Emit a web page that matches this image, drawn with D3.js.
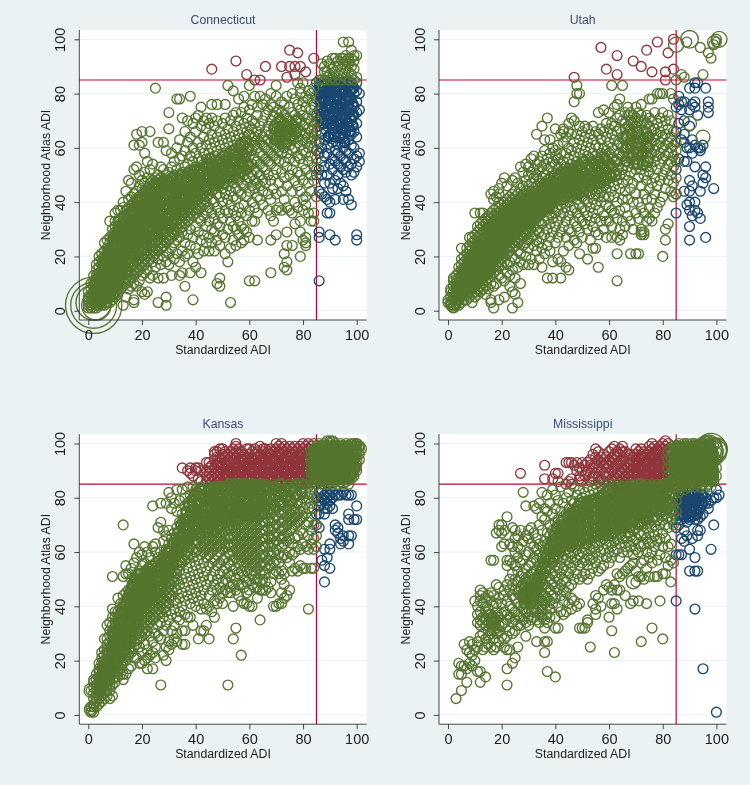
<!DOCTYPE html>
<html lang="en">
<head>
<meta charset="UTF-8">
<title>Standardized ADI vs Neighborhood Atlas ADI</title>
<style>
    html, body { margin: 0; background: #eaf2f3; }
    svg { display: block; font-family: "Liberation Sans", Arial, sans-serif; filter: blur(0.4px); }
    .ticklab { font-size: 14.5px; fill: #1c1c1c; }
    .axtitle { font-size: 12.3px; fill: #222; }
    .ptitle { font-size: 12.3px; fill: #3d4b70; }
</style>
</head>
<body>
<svg id="chart" width="750" height="785"></svg>
<script src="https://d3js.org/d3.v7.min.js"></script>
<script>
// values. columns are [standardized ADI, [atlas ADI, ...]]
const tickValues = [0, 20, 40, 60, 80, 100];
const cutoff = 85;

const ctRed = [[46,[89]],[55,[92]],[59,[87]],[62,[85]],[64,[85]],[66,[90]],[72,[90]],[74,[86]],[75,[96,90]],[77,[90,87]],[78,[95]],[79,[90]],[81,[88]],[84,[93]]];
const ctBlue = [[85,[50,59,66,72,78,84]],[86,[11,29,27,44,52,58,62,68,74,80,83]],[87,[43,50,55,60,65,70,75,79,82,84]],[88,[42,47,53,57,63,67,72,77,81,83]],[89,[36,41,50,58,61,69,74,76,79,84]],[90,[28,36,40,47,54,60,65,71,73,78,82]],[91,[45,52,56,62,67,70,75,80,83]],[92,[26,41,48,55,59,64,68,73,77,81,84]],[93,[45,50,54,58,61,66,72,76,79,83]],[94,[47,53,57,62,65,70,74,78,82]],[95,[41,46,52,56,60,64,69,72,75,80,84]],[96,[44,51,55,59,66,71,77,81]],[97,[41,53,58,63,68,73,76,79,83]],[98,[39,50,54,61,65,70,74,78,84]],[99,[51,56,60,66,72,75,80,82]],[100,[26,28,53,57,64,69,73,77,81,84]],[101,[55,58,74,80]]];
const ctBlueCore = [[86.5,[71,77,82]],[87.5,[69,73,78,83]],[88.5,[70,75,80]],[89.5,[64,72,78,82]],[90.5,[69,75,80,84]],[91.5,[65,72,78,82]],[92.5,[70,75,79,83]],[93.5,[64,69,74,81]],[94.5,[67,72,76,80,84]],[95.5,[62,67,74,78,82]],[96.5,[69,75,79,84]],[97.5,[66,71,78,81]],[98.5,[68,72,76,82]]];
const ctGreen = [
[0,[1,2,3,4,5,7]],[1,[1,2,3,5,6,8,10]],[2,[1,3,4,6,7,9,11,13]],[3,[1,2,4,6,8,9,11,13,15,17]],[4,[2,3,5,7,9,10,12,14,16,18,20]],[5,[2,4,6,8,9,11,13,15,17,19,21]],
[6,[2,4,5,7,9,11,13,14,16,18,20,22,25]],[7,[3,5,7,8,10,12,14,16,18,20,21,23,26]],[8,[3,5,6,8,10,12,14,15,17,19,21,23,25,27,33]],[9,[4,6,8,10,11,13,15,17,19,20,22,24,26,28,30]],
[10,[5,7,9,11,13,14,16,18,20,22,24,25,27,29,31,33,36]],[11,[6,8,10,12,14,16,18,19,21,23,25,27,29,31,33,37]],[12,[8,10,12,13,15,17,19,21,23,25,26,28,30,32,34,37]],
[13,[2,9,11,13,15,17,18,20,22,24,26,28,30,31,33,35,38,40]],[14,[5,10,12,14,16,18,20,22,23,25,27,29,31,33,35,37,44]],[15,[8,11,13,15,17,19,21,23,25,26,28,30,32,34,36,38,41,48]],
[16,[9,12,14,16,18,20,22,24,26,27,29,31,33,35,37,39,42,47]],[17,[3,4,10,13,15,17,19,21,23,25,27,29,30,32,34,36,38,40,43,52,61]],[18,[9,14,16,18,20,22,24,26,28,30,32,33,35,37,39,41,44,53,65]],
[19,[11,15,17,19,21,23,25,27,29,31,33,35,36,38,40,42,46,50,61]],[20,[7,13,16,18,20,22,24,26,28,30,32,34,36,38,39,41,43,45,48,62,66]],[21,[6,14,17,19,21,23,25,27,29,31,33,35,37,39,41,42,44,47,51,58]],
[22,[7,15,18,20,22,24,26,28,30,32,34,36,38,40,42,44,45,49,55]],[23,[12,19,21,23,25,27,29,31,33,35,37,39,41,43,45,47,52,66]],[24,[13,18,20,22,24,26,28,30,32,34,36,38,40,42,44,46,48,54]],
[25,[16,21,23,25,27,29,31,33,35,37,39,41,43,45,47,49,82]],[26,[3,12,19,22,24,26,28,30,32,34,36,38,40,42,44,46,48,50,62]],[27,[17,23,25,27,29,31,33,35,37,39,41,43,45,47,49,53]],
[28,[12,20,24,26,28,30,32,34,36,38,40,42,44,46,48,52,62]],[29,[2,5,18,22,25,27,29,31,33,35,37,39,41,43,45,47,50,59]],[30,[17,21,26,28,30,32,34,36,38,40,42,44,46,48,51,67,73]],
[31,[13,23,27,29,31,33,35,37,39,41,43,45,47,49,53,58]],[32,[19,25,28,30,32,34,36,38,40,42,44,46,48,50,55]],[33,[21,26,29,31,33,35,37,39,41,43,45,47,49,52,60,78]],
[34,[13,18,27,30,32,34,36,38,40,42,44,46,48,50,56,63,78]],[35,[14,22,29,31,33,35,37,39,41,43,45,47,49,51,57,71]],[36,[9,20,25,32,34,36,38,40,42,44,46,48,50,53,59,66]],
[37,[21,28,33,35,37,39,41,43,45,47,49,51,54,62,70]],[38,[14,24,30,34,36,38,40,42,44,46,48,50,52,57,64,79]],[39,[4,18,27,35,37,39,41,43,45,47,49,51,55,60,69]],
[40,[16,23,31,36,38,40,42,44,46,48,50,53,58,66,71]],[41,[21,29,34,37,39,41,43,45,47,49,51,56,62,72]],[42,[14,26,33,38,40,42,44,46,48,50,52,55,60,68,75]],
[43,[22,28,35,39,41,43,45,47,49,51,54,58,64,70]],[44,[25,31,37,40,42,44,46,48,50,52,56,61,67,71]],[45,[22,27,33,38,43,45,47,49,51,53,58,63,69]],[46,[25,30,36,41,44,46,48,50,52,55,60,65,71,76]],
[47,[22,29,34,40,45,47,49,51,53,57,62,68]],[48,[10,26,32,38,43,46,48,50,52,54,59,64,70,76]],[49,[9,12,24,31,36,42,47,49,51,53,56,61,66]],[50,[28,34,40,45,48,50,52,55,58,63,69]],
[51,[21,27,37,43,47,49,51,53,56,60,65,71,76]],[52,[18,30,36,41,46,50,52,54,57,62,67,83]],[53,[3,23,33,39,44,48,51,53,55,59,64,70]],[54,[26,31,37,42,47,50,52,56,61,66,72,81]],
[55,[24,30,35,41,45,49,53,55,58,63,68,73]],[56,[28,33,38,44,48,52,54,57,60,65,70,78]],[57,[25,31,36,43,47,51,55,59,62,67,73]],[58,[26,30,39,46,50,53,56,61,64,69,75,79]],
[59,[29,35,42,48,52,55,58,63,66,71]],[60,[11,27,37,44,49,53,57,60,65,68,74,83]],[61,[33,40,46,50,54,59,62,67,70,76]],[62,[11,33,38,45,48,52,56,61,64,69,79]],[63,[26,36,42,47,51,55,60,63,66,72,75]],
[64,[41,46,50,54,58,62,65,68,79]],[65,[39,44,48,53,57,61,64,70,76]],[66,[47,52,56,60,66,72,78]],[67,[37,43,50,55,59,63,68,74]],[68,[14,26,35,41,48,54,58,62,65,70,76,80]],
[69,[33,45,50,57,61,64,67,72,75]],[70,[28,37,43,52,56,60,63,66,69,73,79,83]],[71,[38,47,55,59,62,65,68,71,74]],[72,[37,44,51,58,61,64,67,70,73,77]],[73,[16,21,41,49,55,60,63,66,69,72,76]],
[74,[15,18,24,29,38,46,53,58,62,65,68,71,79]],[75,[37,50,56,61,64,67,70,75]],[76,[24,36,44,52,59,63,66,69,73,80]],[77,[32,40,48,55,60,65,68,72,78]],[78,[38,46,51,57,62,64,67,71,76,84]],
[79,[20,29,33,44,50,56,61,66,70,74,80,82]],[80,[26,37,41,48,54,59,63,68,72,77,84]],[81,[25,27,24,39,42,52,58,62,65,69,75,79]],[82,[36,47,55,60,64,67,71,78,81]],[83,[33,44,50,57,62,66,70,74,80]],
[84,[33,36,48,53,60,64,68,72,76,82]],[85,[42,52,56,62,66,70]],
[86,[85]],[87,[85,91]],[88,[85,88,90]],[89,[92,88,86]],[90,[91,87,85]],[91,[93,86,89]],[92,[93,88,85]],[93,[90,87,92]],[94,[89,85,93]],[95,[99,91,87,93]],[96,[92,86,89,94]],[97,[99,93,88,85,91]],[98,[96,90,87,93]],[99,[94,89,85,92]],[100,[94,86]]];
const ctGreenCore = [
[2.5,[3,6,10]],[3.5,[5,8,12]],[4.5,[3,7,11,13]],[5.5,[4,6,10,14,18]],[6.5,[3,8,12,15,19]],[7.5,[5,9,13,17,19,22]],[8.5,[7,11,14,18,22]],[9.5,[6,12,16,21,23,27]],
[10.5,[9,13,15,19,24,28]],[11.5,[11,17,20,24,26,30]],[12.5,[14,18,22,27,31]],[13.5,[16,21,25,29,32]],[14.5,[14,19,23,26,30,34]],[15.5,[18,22,27,31,35]],[16.5,[20,24,28,33,36]],
[17.5,[21,26,29,34,38]],[18.5,[19,23,28,31,36,40]],[19.5,[24,27,32,37,41]],[20.5,[23,29,33,35,39]],[21.5,[25,28,34,38,42]],[22.5,[27,31,35,39,43]],[23.5,[24,30,36,40,44]],
[24.5,[28,33,37,41,46]],[25.5,[29,32,38,42,47]],[26.5,[31,35,39,43]],[27.5,[30,36,40,44,47]],[28.5,[33,38,41,45]],[29.5,[31,34,39,43,48]],[30.5,[35,40,44,46]],[31.5,[33,37,41,45,49]],
[32.5,[36,42,46]],[33.5,[38,40,44,48]],[34.5,[37,41,47,50]],[35.5,[39,43,46]],[36.5,[40,45,49]],[37.5,[38,44,47,51]],[38.5,[41,46,50]],[39.5,[42,44,48,52]],[40.5,[41,45,49]],[41.5,[44,47,52]],
[42.5,[43,47,51]],[43.5,[46,49,53]],[44.5,[45,50,54]],[45.5,[47,52,56]],[46.5,[46,50,54]],[47.5,[48,53]],[48.5,[47,51,55]],[49.5,[49,54]],[50.5,[47,52,57]],[51.5,[50,55]],
[52.5,[49,53,58]],[53.5,[51,56]],[54.5,[50,54,59]],[55.5,[52,57]],[56.5,[51,56,61]],[57.5,[54,58]],[58.5,[52,57,62]],[59.5,[54,60]],[69.5,[63,68]],[71.5,[64,67,70]],[73.5,[62,65,68]],[75.5,[64,67]],[77.5,[66,70]]];
const ctHeavy = [[2,2,33],[2,2,22],[2,3,13],[3,2,9]];

const utRed = [[47,[86]],[57,[97]],[59,[89]],[63,[87,94]],[69,[92]],[72,[90]],[74,[96]],[76,[88]],[78,[99]],[81,[85,88]],[82,[95]],[84,[89,100]]];
const utBlue = [[85,[36,43,52,66,75]],[86,[56,76,79,69]],[87,[63,74,77]],[88,[44,55,62,65,70,77]],[89,[55,60,39]],[90,[26,31,37,40,44,48,60,68,74,82]],[91,[35,46,63,58,76]],[92,[37,40,53,61,75,77,82,84]],[93,[36,60,72,84]],[94,[34,44,59,60]],[95,[47,50,61]],[96,[27,49,53,82]],[97,[73,75,77]],[99,[45]]];
const utGreen = [
[0,[3,4]],[1,[2,3,5,7,8]],[2,[1,2,4,5,7,9,11,12]],[3,[2,3,5,6,8,10,11,13]],[4,[2,4,5,7,9,10,12,14,16]],[5,[3,5,6,8,10,11,13,15,17,19,23]],[6,[4,6,7,9,11,12,14,16,18,20]],
[7,[4,6,8,10,12,13,15,17,19,21,23]],[8,[5,7,9,11,13,14,16,18,20,22,24,27]],[9,[3,6,8,10,12,14,15,17,19,21,23,25,27]],[10,[5,7,9,11,13,15,16,18,20,22,24,26,28,36]],[11,[6,8,10,12,14,16,18,19,21,23,25,27,29,31]],
[12,[7,9,11,13,15,17,18,20,22,24,26,28,30,32,36]],[13,[8,10,12,14,16,18,20,21,23,25,27,29,31,33,36]],[14,[6,9,11,13,15,17,19,21,23,24,26,28,30,32,34]],[15,[8,12,14,16,18,20,22,24,26,27,29,31,33,35]],
[16,[4,3,10,13,15,17,19,21,23,25,27,29,30,32,34,36,43]],[17,[1,9,14,16,18,20,22,24,26,28,30,32,33,35,37,41,44]],[18,[10,15,17,19,21,23,25,27,29,31,33,35,36,38,42]],[19,[4,13,16,18,20,22,24,26,28,30,32,34,36,38,40,43,45]],
[20,[12,17,19,21,23,25,27,29,31,33,35,37,39,47]],[21,[5,11,18,20,22,24,26,28,30,32,34,36,38,40,49]],[22,[14,17,21,23,25,27,29,31,33,35,37,39,41,46]],[23,[9,13,18,22,24,26,28,30,32,34,36,38,40,42]],
[24,[1,7,15,20,23,25,27,29,31,33,35,37,39,41,43,48]],[25,[6,12,19,24,26,28,30,32,34,36,38,40,42,44,49]],[26,[3,16,22,25,27,29,31,33,35,37,39,41,43,47]],[27,[10,18,21,26,28,30,32,34,36,38,40,42,45,53]],
[28,[17,24,27,29,31,33,35,37,39,41,43,46,51]],[29,[20,25,28,30,32,34,36,38,40,42,44,48,54]],[30,[17,23,26,29,31,33,35,37,39,41,43,46,50,53]],[31,[19,27,30,32,34,36,38,40,42,44,47,51,56]],
[32,[17,24,28,31,33,35,37,39,41,43,45,49,52,57]],[33,[22,26,30,34,36,38,40,42,44,46,50,54,65]],[34,[19,25,29,33,35,37,39,41,43,45,48,52,55]],[35,[16,23,27,32,36,38,40,42,44,46,49,53,57,68]],
[36,[21,28,33,37,39,41,43,45,47,50,54,59,63]],[37,[12,24,30,34,38,40,42,44,46,48,52,56,71]],[38,[22,27,32,36,39,41,43,45,47,49,53,58,63]],[39,[12,18,29,34,38,42,44,46,48,51,55,60]],[40,[25,31,36,40,43,45,47,50,54,57,59,67]],
[41,[19,27,33,37,41,44,46,49,52,56,61]],[42,[12,18,29,35,39,42,45,47,51,54,58,65]],[43,[22,31,36,40,43,46,48,52,55,62,66,67]],[44,[16,27,33,38,42,45,47,50,53,58,64]],[45,[15,24,30,35,40,44,46,49,52,56,60,66,69]],
[46,[29,37,42,45,48,51,54,59,65,71]],[47,[26,33,38,43,47,50,53,57,62,70,77]],[48,[25,31,36,41,45,48,52,55,60,65,80,83]],[49,[21,29,34,39,43,47,50,54,58,63,68,80]],[50,[27,33,38,42,46,49,53,56,61,66]],
[51,[32,37,41,45,48,51,55,59,64,68]],[52,[19,30,35,40,44,47,50,54,57,62,67]],[53,[26,33,38,43,46,49,52,56,60,65]],[54,[23,31,36,41,45,48,51,55,58,63,68]],[55,[23,29,34,39,43,47,50,53,57,61,66]],
[56,[16,28,37,42,45,49,52,56,60,65,73]],[57,[33,40,44,47,51,54,58,63,67]],[58,[30,35,42,46,49,53,57,60,66,74]],[59,[27,33,39,45,48,52,55,59,64,69]],[60,[33,38,42,47,50,54,58,62,67,73]],
[61,[27,31,37,44,49,53,56,60,65,69,83]],[62,[36,42,46,51,55,59,63,68,75]],[63,[11,21,27,34,40,48,52,56,61,66,71,76]],[64,[26,30,37,45,50,54,58,62,67,72,78]],[65,[28,33,41,47,52,57,60,64,70,83]],
[66,[31,38,44,50,55,59,63,67,69,73]],[67,[35,41,48,53,57,61,65,68,72,75]],[68,[21,33,45,51,56,60,63,67,70,73]],[69,[30,40,47,54,58,62,66,69,72]],[70,[21,36,43,52,56,60,64,68,71,75]],
[71,[21,34,40,49,54,58,62,66,70,73]],[72,[28,29,30,38,46,52,57,60,64,68,72,76]],[73,[28,29,36,43,50,55,59,63,66,70]],[74,[33,41,48,53,58,62,66,69,72]],[75,[34,38,45,51,56,60,64,68,71,78]],
[76,[33,41,47,53,58,62,66,70,78]],[77,[36,43,49,55,59,63,67,73]],[78,[38,46,52,57,61,65,69,80]],[79,[40,48,54,58,62,66,71,80]],[80,[20,42,50,56,60,64,68,73,80]],[81,[26,30,45,52,57,61,65,70]],
[82,[32,48,54,58,62,67,72]],[83,[44,50,55,60,64,70,80]],[84,[42,47,53,57,61,66,78]],[85,[43,49,55,59,62,85]],[87,[87]],[88,[86]],[89,[99]],[94,[97]],[95,[87]],[97,[95]],[98,[93]],[99,[98]],[100,[99,100]]];
const utGreenCore = [
[3.5,[4,7,9]],[4.5,[6,8,11]],[5.5,[7,9,12,14]],[6.5,[8,10,13,15]],[7.5,[9,11,14,16,18]],[8.5,[8,10,12,15,17,19]],[9.5,[9,11,13,16,18,20]],
[10.5,[10,12,14,17,19,21,23]],[11.5,[11,13,15,17,20,22,24]],[12.5,[12,14,16,19,21,23,25]],[13.5,[13,15,17,19,22,24,26]],[14.5,[14,16,18,20,22,25,27,29]],[15.5,[15,17,19,21,23,25,28,30]],
[16.5,[18,20,22,24,26,28,31]],[17.5,[19,21,23,25,27,29,31]],[18.5,[20,22,24,26,28,30,32]],[19.5,[21,23,25,27,29,31,33]],[20.5,[22,24,26,28,30,32,34]],[21.5,[25,27,29,31,33,35]],
[22.5,[26,28,30,32,34,36]],[23.5,[27,29,31,33,35,37]],[24.5,[28,30,32,34,36,38]],[25.5,[29,31,33,35,37,39]],[26.5,[30,32,34,36,38,40]],[27.5,[31,33,35,37,39]],
[28.5,[32,34,36,38,40]],[29.5,[33,35,37,39,41]],[30.5,[32,34,36,38,40,42]],[31.5,[33,35,37,39,41]],[32.5,[34,36,38,40,42]],[33.5,[35,37,39,41,43]],[34.5,[36,38,40,42,44]],
[35.5,[37,39,41,43,45]],[36.5,[38,40,42,44,46]],[37.5,[38,41,43,45,47]],[38.5,[40,42,44,46]],[39.5,[41,43,45,47]],[40.5,[42,44,46,49]],[41.5,[43,45,47,50]],[42.5,[41,44,46,48]],
[43.5,[42,45,47,50]],[44.5,[43,46,48,51]],[45.5,[42,45,47,50]],[46.5,[44,46,49,52]],[47.5,[43,46,48,51]],[48.5,[47,50,53]],[49.5,[45,48,52]],[50.5,[44,47,51,55]],[52.5,[46,49,53]],[54.5,[47,50,54]],[56.5,[47,51,55]],[58.5,[48,52,56]],
[60.5,[50,54]],[62.5,[50,55]],[66.5,[55,60,64]],[68.5,[57,61,65]],[70.5,[54,58,62,66]],[72.5,[54,58,63]],[74.5,[55,60,64]]];
const utHeavy = [[85,98,2.4],[90,100,3.2],[101,100,2.6],[99,99,1.6],[95,64,2],[90,69,2],[2,3,2.2],[2,2,2]];

const ksRed = [
[35,[91]],[37,[90]],[38,[89,91]],[39,[88]],[40,[90,91]],[41,[91,87]],[42,[90,86]],[44,[88,90,86,93]],[45,[87,89,91,93]],[46,[86,88,90,92]],[47,[87,89,91,94,96,97]],[48,[86,88,90,92,93,95,97]],
[49,[87,89,91,93,95,98]],[50,[86,88,90,92,94,96,98]],[51,[87,89,91,93,95,97]],[52,[86,88,90,92,94,96]],[53,[87,89,91,93,95,97]],[54,[86,88,90,92,94,96,98]],[55,[87,89,91,93,95,97,99,100]],[56,[86,88,90,92,94,96,98]],
[57,[87,89,91,93,95,97]],[58,[86,88,90,92,94,96]],[59,[87,89,91,93,95,98]],[60,[86,88,90,92,94,96,98]],[61,[87,89,91,93,95,97]],[62,[86,88,90,92,94,96,98]],[63,[87,89,91,93,95,97]],[64,[86,88,90,92,94,96,99]],
[65,[87,89,91,93,95,97,98]],[66,[86,88,90,92,94,96,98]],[67,[87,89,91,93,95,97]],[68,[86,88,90,92,94,96,98]],[69,[87,89,91,93,95,97]],[70,[86,88,90,92,94,96,98,100]],[71,[87,89,91,93,95,97,99]],[72,[86,88,90,92,94,96,98,100]],
[73,[87,89,91,93,95,97,99]],[74,[86,88,90,92,94,96,98]],[75,[87,89,91,93,95,97,99]],[76,[86,88,90,92,94,96,98]],[77,[87,89,91,93,95,97,99]],[78,[86,88,90,92,94,96,98]],[79,[87,89,91,93,95,97,99]],[80,[86,88,90,92,94,96,98,100]],
[81,[87,89,91,93,95,97,99]],[82,[86,88,90,92,94,96,98,100]],[83,[87,89,91,93,95,97,99]],[84,[86,88,90,92,94,96,98,100]]];
const ksRedCore = [[51.5,[88,92]],[53.5,[90]],[55.5,[88,92]],[57.5,[90,94]],[59.5,[88,92]],[61.5,[90,94]],[63.5,[88,92]],[65.5,[90,94]],[67.5,[88,92,96]],[69.5,[90,94]],[71.5,[88,92,96]],[73.5,[90,94]],[75.5,[88,92,96]],[77.5,[90,94]],[79.5,[88,92,96]],[81.5,[90,94]],[83.5,[88,92,96]]];
const ksBlue = [[85,[70,74,80]],[86,[69,74,77,79,82]],[87,[57,78,80,83]],[88,[49,55,61,74,76,79,81]],[89,[58,76,78,80,82]],[90,[54,61,63,77,79,81,83]],[91,[76,80,82]],[92,[68,70,81,83]],[93,[67,69,81]],[94,[63,65,81]],[95,[64,66,82]],[96,[81]],[97,[63,66,72,74,81]],[98,[66,81]],[99,[72]],[100,[72,77]]];
const ksGreen = [
[1,[1,2,3,9]],[2,[1,3,4,6,8,10,12,13]],[3,[3,5,6,8,10,11,13,15]],[4,[4,6,8,9,11,13,14,16,17,19]],[5,[5,7,9,10,12,14,15,17,19,21,23]],[6,[6,8,9,11,13,15,16,18,20,22,24,28]],[7,[7,9,11,12,14,16,18,20,22,24,26,28,33]],
[8,[6,9,11,13,15,17,19,21,23,25,27,29,31,34]],[9,[7,11,13,15,17,19,21,23,25,27,29,31,33,36,39,51]],[10,[12,14,16,18,20,22,24,26,28,30,32,34,36,38]],[11,[14,16,18,20,22,24,26,28,30,32,34,36,38,43]],
[12,[15,17,19,21,23,25,27,29,31,33,35,37,39,41]],[13,[13,15,19,21,23,25,27,29,31,33,35,37,39,41,44,51,70]],[14,[15,20,22,24,26,28,30,32,34,36,38,40,42,45,52,55]],[15,[17,22,24,26,28,30,32,34,36,38,40,42,44,46,52]],
[16,[18,23,25,27,29,31,33,35,37,39,41,43,45,47,50,54]],[17,[21,25,27,29,31,33,35,37,39,41,43,45,47,49,56,63]],[18,[21,26,28,30,32,34,36,38,40,42,44,46,48,50,52,58]],[19,[19,25,28,30,32,34,36,38,40,42,44,46,48,50,53,60]],
[20,[19,23,29,31,33,35,37,39,41,43,45,47,49,51,55,59]],[21,[20,26,30,32,34,36,38,40,42,44,46,48,50,52,56,62]],[22,[17,21,24,31,33,35,37,39,41,43,45,47,49,51,53,60]],[23,[22,29,34,36,38,40,42,44,46,48,50,52,54,58]],
[24,[17,23,27,32,35,37,39,41,43,45,47,49,51,53,55,62,77]],[25,[21,25,30,36,38,40,42,44,46,48,50,52,54,56,60,63]],[26,[29,33,37,39,41,43,45,47,49,51,53,55,58,69]],[27,[11,28,34,38,40,42,44,46,48,50,52,54,57,60,71,78]],
[28,[22,31,36,39,41,43,45,47,49,51,53,55,59,64,68]],[29,[20,25,33,38,40,42,44,46,48,50,52,54,56,61,66,78]],[30,[24,27,35,41,43,45,47,49,51,53,55,58,63,68,82]],[31,[26,31,37,44,46,48,50,52,54,57,61,65,76,80]],
[32,[28,33,39,42,47,49,51,53,55,59,63,67,78]],[33,[27,30,36,41,46,50,52,54,56,60,64,69,75,83]],[34,[35,38,43,48,53,55,57,61,65,71,79]],[35,[26,31,40,45,50,56,58,60,63,67,74,83]],[36,[26,31,37,42,47,52,57,59,62,65,70,77,80]],
[37,[36,44,49,54,58,60,63,66,72,78,84]],[38,[36,41,46,51,56,59,62,65,68,74,81]],[39,[33,43,48,53,58,61,64,67,71,77,84]],[40,[40,45,50,55,60,63,66,69,73,79,83]],[41,[28,42,47,52,57,61,64,67,70,75,81]],[42,[31,39,44,49,54,59,62,65,68,72,78,84]],
[43,[31,41,46,51,56,60,63,66,69,74,80,83]],[44,[33,39,48,53,58,61,64,67,70,73,77,82]],[45,[28,40,44,50,55,59,62,65,68,71,75,79,84]],[46,[38,46,51,56,60,63,66,69,72,76,81]],[47,[36,42,48,53,57,61,64,67,70,73,77,83]],
[48,[41,46,50,55,59,62,65,68,71,74,79,84]],[49,[43,47,52,56,60,63,66,69,72,75,80,82]],[50,[41,45,49,53,57,61,64,67,70,73,76,81,84]],[51,[46,50,54,58,62,65,68,71,74,78,83]],[52,[11,45,49,52,56,60,63,66,69,72,75,79,84]],
[53,[45,47,51,55,59,62,65,68,71,74,77,81]],[54,[28,40,48,53,57,60,63,66,69,72,75,79,84]],[55,[32,46,50,54,58,61,64,67,70,73,76,80,83]],[56,[44,48,52,56,59,62,65,68,71,74,77,82,85]],[57,[22,42,48,53,57,60,63,66,69,72,75,78,84]],
[58,[41,47,51,55,58,61,64,67,70,73,76,80,85]],[59,[41,45,49,53,56,59,62,65,68,71,74,78,83]],[60,[40,46,50,54,57,60,63,66,69,72,75,79,82,85]],[61,[40,48,52,55,58,61,64,67,70,73,76,80,84]],[62,[47,50,53,56,59,62,65,68,71,74,78,83]],
[63,[43,47,50,54,57,60,63,66,69,72,75,79,85]],[64,[35,46,49,52,55,58,61,64,67,70,73,76,81,84]],[65,[46,50,53,56,59,62,65,68,71,74,78,83]],[66,[46,49,52,55,58,62,65,68,71,74,77,80,85]],[67,[47,54,57,60,63,66,69,72,75,79,84]],
[68,[45,49,55,59,62,65,68,71,74,77,81]],[69,[40,52,56,60,63,66,69,72,75,78,83,85]],[70,[40,53,57,61,64,67,70,73,76,80,84]],[71,[41,52,56,59,63,66,69,72,75,79,82]],[72,[41,45,50,53,58,62,65,68,71,74,77,81,85]],
[73,[43,48,52,59,63,66,69,72,75,78,83]],[74,[44,58,64,67,70,73,76,79,84]],[75,[46,56,60,65,68,71,74,77,81,85]],[76,[53,59,63,69,72,75,78,82]],[77,[54,60,65,70,73,76,80,84]],[78,[53,62,66,71,74,78,81,85]],
[79,[55,61,68,72,75,78,83]],[80,[54,63,67,73,76,80,84]],[81,[54,62,70,74,78,82,85]],[82,[39,61,66,71,76,80,84]],[83,[54,63,68,73,78,82,85,87,89,91,93,95,97]],[84,[54,61,65,70,76,80,84,86,88,90,92,94,96,98]],
[85,[62,66,70,85,87,89,91,93,95,97,99]],[86,[86,88,90,92,94,96,98,100]],[87,[85,87,89,91,93,95,97,99]],[88,[86,88,90,92,94,96,98,100]],[89,[85,87,89,91,93,95,97,99,101]],[90,[86,88,90,92,94,96,98,100,101]],
[91,[85,87,89,91,93,95,97,99,101]],[92,[86,88,90,92,94,96,98,100]],[93,[85,87,89,91,93,95,97,99]],[94,[86,88,90,92,94,96,98,100]],[95,[85,87,89,91,93,95,97,99]],[96,[86,88,90,92,94,96,98,100]],[97,[85,87,89,91,93,95,97,99]],
[98,[87,89,91,93,95,97,99,100]],[99,[88,90,92,94,96,98,100]],[100,[90,92,94,96,98,100]],[101,[94,96,98,99]]];
const ksGreenCore = [
[4.5,[10,13]],[5.5,[11,14,18]],[6.5,[13,17,19]],[7.5,[13,15,19,23]],[8.5,[16,20,24]],[9.5,[18,22,26,30]],[10.5,[19,23,27,31]],
[11.5,[21,25,29,33]],[12.5,[22,26,30,34,38]],[13.5,[24,28,32,36,40]],[14.5,[27,31,35,39,43]],[15.5,[29,33,37,41,45]],[16.5,[32,36,40,44,48]],[17.5,[34,38,42,46,50]],
[18.5,[37,41,45,49]],[19.5,[39,43,47,49,52]],[20.5,[40,44,48,50]],[21.5,[41,45,49,53]],[22.5,[42,46,50,54]],[23.5,[43,47,51,55]],[24.5,[44,48,52]],[25.5,[45,49,53]],
[26.5,[46,50,54]],[27.5,[48,52,56]],[28.5,[50,54,58]],[29.5,[52,56,60]],[30.5,[54,57,60]],[31.5,[56,59,63]],[32.5,[58,61,65]],[33.5,[60,63,67]],[34.5,[62,66,70]],
[35.5,[63,66,69,72]],[36.5,[64,68,72,75]],[37.5,[65,69,73,77]],[38.5,[67,71,75,79]],[39.5,[68,72,76,81]],[40.5,[70,74,78,82]],[41.5,[67,71,74,78,83]],[42.5,[70,73,76,80]],[43.5,[71,73,77,81]],[44.5,[69,72,76,79,82]],
[45.5,[70,73,77,80,83]],[46.5,[68,71,74,78,82]],[47.5,[72,75,79,84]],[48.5,[69,73,77,80,83]],[49.5,[70,74,78,81,84]],[50.5,[72,75,79,83]],[51.5,[71,73,76,80,84]],[52.5,[70,74,77,81,85]],[53.5,[73,76,80,83]],[54.5,[74,78,81,85]],
[55.5,[72,75,78,82,84]],[56.5,[73,76,79,83,85]],[57.5,[74,77,81,84]],[58.5,[75,78,82,85]],[59.5,[73,76,80,83]],[60.5,[74,77,81,84]],[61.5,[75,78,82,85]],[62.5,[76,80,84]],[63.5,[74,77,81,84]],[64.5,[75,79,82,85]],
[65.5,[77,80,84]],[67.5,[76,80,83]],[69.5,[77,81,84]],[71.5,[78,82,85]],[73.5,[80,83]],[75.5,[79,83]],[77.5,[81,85]],[79.5,[82,85]],
[84.5,[87,91,95,97]],[85.5,[88,92,96,98]],[86.5,[87,91,95,99]],[87.5,[88,92,96,98]],[88.5,[87,91,95,99]],[89.5,[88,92,96,98]],[90.5,[87,91,95,99]],[91.5,[88,92,96,98]],[92.5,[87,91,95,99]],[93.5,[88,92,96,98]],[94.5,[87,91,95,99]],[95.5,[88,92,96,98]],[96.5,[87,91,95,99]],[97.5,[88,92,96,98]],[98.5,[89,93,97]],[99.5,[91,95,99]]];
const ksHeavy = [[91,100,2],[100,99,2],[101,98,2],[1,9,2],[1,2,1.8],[85,97,2]];

const msRed = [
[27,[89]],[36,[87,92]],[39,[87]],[40,[89]],[41,[89,86]],[44,[85,93]],[45,[86,93]],[46,[85,87,93]],[47,[92]],[48,[90,93]],[49,[88,91,87]],[50,[93,90,86]],[51,[92,88]],[52,[90,93]],[53,[86,89,92,94]],[54,[88,91,96,87]],
[55,[89,93,95,98]],[56,[86,88,91,94,97]],[57,[87,90,93,95]],[58,[86,89,92,94,96]],[59,[88,91,93,95]],[60,[86,89,92,94,97]],[61,[87,90,93,95,98]],[62,[86,88,91,94,96,99]],[63,[87,89,92,95,97]],[64,[86,88,90,93,96,98]],
[65,[87,89,91,94,97,99]],[66,[86,88,90,92,95,97]],[67,[87,89,91,93,96]],[68,[86,88,90,92,94,96]],[69,[87,89,91,93,95]],[70,[86,88,90,92,94,96,98]],[71,[87,89,91,93,95,97]],[72,[86,88,90,92,94,96,98]],[73,[87,89,91,93,95,97]],
[74,[86,88,90,92,94,96]],[75,[87,89,91,93,95,97,99]],[76,[86,88,90,92,94,96,98,100]],[77,[87,89,91,93,95,97,99]],[78,[86,88,90,92,94,96,98]],[79,[87,89,91,93,95,97,99]],[80,[86,88,90,92,94,96,98,100]],[81,[87,89,91,93,95,97,99,101]],[82,[86,88,90,92,94,96,98,100]]];
const msRedCore = [[70.5,[89,93]],[72.5,[87,91,95]],[74.5,[89,93]],[76.5,[87,91,95]],[78.5,[89,93,97]],[80.5,[87,91,95]],[82.5,[89,93,97]]];
const msBlue = [[85,[42,59,69,72,75,78]],[86,[59,70,74,78,80]],[87,[59,65,72,76,79,82]],[88,[64,68,73,75,78,81]],[89,[66,71,74,77,80,83]],[90,[53,61,72,75,78,81]],[91,[65,73,76,79,83]],[92,[39,53,58,72,75,78,82]],[93,[53,66,68,72,74,77,80]],[94,[68,73,76,79,83]],[95,[17,74,78,81]],[96,[78,80]],[97,[76,78]],[98,[61,79]],[99,[70,80]],[100,[1,80,83]],[101,[81]]];
const msBlueCore = [[87.5,[74,78,81]],[88.5,[76,80]],[89.5,[73,78,82]],[90.5,[75,79]],[91.5,[77,81]],[92.5,[74,79]],[93.5,[76,80]],[94.5,[78,81]]];
const msGreen = [
[3,[6]],[4,[15,19]],[5,[9,15,18]],[6,[18,26]],[7,[12,17,24]],[8,[19,23,27]],[9,[18,22,26]],[10,[20,24,42]],[11,[16,25,27,34,37,40]],[12,[12,16,29,33,35,38,42,44,46]],[13,[24,30,34,36,41,45]],[14,[14,25,28,33,35,38,40,43]],
[15,[26,29,31,34,37,39,44]],[16,[25,30,33,35,37,42,45,57]],[17,[24,28,31,34,36,40,44,57]],[18,[25,30,32,35,38,41,48,67]],[19,[27,31,33,36,43,47,68,70]],[20,[29,33,37,41,62,67,70]],[21,[25,28,34,38,44,46,63,68]],
[22,[11,17,24,29,35,37,42,48,55,57,73]],[23,[24,31,36,40,46,50,57,63]],[24,[19,30,34,39,44,48,52,56,62,69]],[25,[21,31,35,38,43,46,50,55,60,65,68]],[26,[25,33,37,41,45,49,53,58,62,66]],[27,[33,36,40,44,47,51,56,61,68]],
[28,[35,39,43,45,48,52,57,64,82]],[29,[29,34,38,41,44,47,50,54,59,66,77]],[30,[33,36,39,42,45,48,51,55,60,65,68]],[31,[35,38,41,43,46,49,52,56,63,69]],[32,[36,39,42,44,47,50,53,58,62,67,77]],[33,[27,35,38,41,44,46,49,53,57,61,65,76]],
[34,[34,37,40,43,45,48,51,55,59,63,70,78]],[35,[36,39,42,45,47,50,54,58,62,68,73,82]],[36,[23,27,32,35,41,44,48,52,56,60,64,72,76]],[37,[16,27,34,37,40,43,47,51,55,59,63,67,75,81]],[38,[36,39,42,46,50,54,58,62,66,70,78]],
[39,[41,44,48,52,56,60,64,68,74,83]],[40,[14,32,36,43,47,51,55,59,63,67,71,76,81]],[41,[32,40,46,50,54,58,62,66,70,72,79]],[42,[38,44,48,52,56,60,64,68,71,75,84]],[43,[37,42,46,50,54,58,62,66,69,73,78]],
[44,[38,45,49,53,57,61,64,67,70,74,80]],[45,[41,47,52,56,60,63,66,69,72,76,82]],[46,[39,43,48,54,58,62,65,68,71,75,79]],[47,[42,50,56,60,63,66,69,72,74,78,84]],[48,[40,52,57,61,64,67,70,73,76,81]],
[49,[32,41,50,55,59,63,66,69,72,75,79,83]],[50,[32,51,56,60,64,67,70,73,76,80]],[51,[32,52,57,61,65,68,71,74,77,82]],[52,[35,34,50,55,59,63,66,69,72,75,79,84]],[53,[25,52,57,61,65,68,71,74,77,81]],
[54,[41,54,58,62,66,69,72,75,78,83]],[55,[37,39,44,56,60,64,67,70,73,76,80,85]],[56,[43,53,58,62,66,69,72,75,78,82]],[57,[40,54,60,64,67,70,73,76,79,84]],[58,[46,55,61,65,68,71,74,77,81]],
[59,[48,58,63,66,69,72,75,78,82,85]],[60,[36,47,56,60,64,67,70,73,76,79,83]],[61,[31,41,46,58,62,66,69,72,75,78,81,85]],[62,[23,41,48,60,64,67,70,73,76,79,84]],[63,[39,46,52,61,65,68,71,74,77,80,85]],
[64,[46,51,58,63,67,70,73,76,79,83]],[65,[52,60,65,68,71,74,77,80,84]],[66,[44,53,62,66,69,72,75,78,82,85]],[67,[54,60,64,67,70,73,76,79,83]],[68,[41,55,62,66,69,72,75,78,81,85]],[69,[42,56,59,64,68,71,74,77,80,84]],
[70,[49,53,61,65,69,72,75,78,81,85]],[71,[42,51,60,63,67,70,73,76,79,83]],[72,[27,51,56,62,66,70,73,76,79,82,85]],[73,[50,57,63,67,71,74,77,80,84]],[74,[41,54,60,65,69,72,75,78,81,85]],[75,[51,58,63,67,71,74,77,80,83]],
[76,[32,56,60,64,69,72,75,78,82,85]],[77,[51,62,66,70,73,76,79,84]],[78,[51,57,64,68,72,75,78,81,85]],[79,[42,59,65,70,74,77,80,84]],[80,[28,52,62,67,72,75,78,82,85]],[81,[52,58,65,70,74,77,80,84]],[82,[55,62,69,73,76,79,83,85,88,91,94,97]],
[83,[49,57,63,72,75,78,82,86,89,92,95,98]],[84,[56,70,74,77,81,85,87,90,93,96,99]],[85,[75,79,83,85,88,91,94,97,99]],[86,[82,84,86,89,92,95,98,100]],[87,[84,87,90,93,96,99]],[88,[83,85,88,91,94,97,100]],[89,[84,86,89,92,95,98,100]],
[90,[84,87,90,93,96,99]],[91,[85,88,91,94,97,100]],[92,[84,86,89,92,95,98,100]],[93,[85,87,90,93,96,99]],[94,[84,86,88,91,94,97,100]],[95,[85,87,89,92,95,98,100]],[96,[84,86,88,90,93,96,99,101]],[97,[85,87,89,91,94,97,100,101]],
[98,[84,86,88,90,92,95,98,100]],[99,[86,88,90,93,96,99]],[100,[88,91,94,97,100]]];
const msGreenCore = [
[16.5,[34,36]],[17.5,[33,35]],[28.5,[41,44,47]],[29.5,[43,46,49]],[30.5,[41,44,47]],[31.5,[44,47]],[32.5,[45,48]],[33.5,[47,51]],[34.5,[49,53]],[35.5,[52,56]],
[36.5,[54,58]],[37.5,[57,61]],[38.5,[56,60,64]],[39.5,[58,62,66]],[40.5,[61,65,69]],[41.5,[60,63,67]],[42.5,[62,66,70]],[43.5,[64,68]],[44.5,[63,66,69,73]],[45.5,[62,65,68,71,74]],
[46.5,[64,67,70,73]],[47.5,[65,68,71,75]],[48.5,[63,66,69,73,77]],[49.5,[64,67,70,74,78]],[50.5,[66,69,72,75]],[51.5,[63,66,69,72,75,78]],[52.5,[65,68,71,74,77]],[53.5,[67,70,73,76,79]],[54.5,[67,70,73,76,79]],[55.5,[66,69,72,75,78]],
[56.5,[68,71,74,77,80]],[57.5,[69,72,75,78,81]],[58.5,[67,70,73,76,79]],[59.5,[68,71,74,77,80,83]],[60.5,[69,72,75,78,81]],[61.5,[67,70,73,76,79,83]],[62.5,[69,72,75,78,81]],[63.5,[70,73,76,79,82]],[64.5,[69,72,75,78,81,84]],[65.5,[70,73,76,79,82]],
[66.5,[71,74,77,80,83]],[67.5,[69,72,75,78,81,84]],[68.5,[73,76,79,82]],[69.5,[72,75,78,81,83]],[70.5,[74,77,80,83]],[71.5,[71,74,77,80,82,85]],[72.5,[75,78,81,84]],[73.5,[72,75,78,81,84]],[74.5,[73,76,79,82]],[75.5,[75,78,81,84]],[76.5,[76,79,83]],
[77.5,[75,78,81,84]],[78.5,[77,80,83]],[79.5,[75,78,81,84]],[80.5,[77,80,83]],[81.5,[76,79,82,85]],[82.5,[78,81,84]],[84.5,[88,91,95,98]],[85.5,[86,90,93,96,99]],[86.5,[87,91,94,97]],[87.5,[86,89,92,95,98]],[88.5,[87,90,93,96,99]],[89.5,[88,91,94,97]],[90.5,[86,89,92,95,98]],
[91.5,[87,90,93,96,99]],[92.5,[88,91,94,97]],[93.5,[86,89,92,95,98]],[94.5,[87,90,93,96,99]],[95.5,[88,91,94,97]],[96.5,[87,89,92,95,98]],[97.5,[88,90,93,96,99]],[98.5,[87,89,91,94,97]]];
const msHeavy = [[98,98,10],[97,98,8],[98,97,6],[97,97,9],[96,97,5],[95,97,7],[93,95,8],[92,94,5],[90,93,7],[89,92,6],[88,92,5],[86,93,4],[87,94,6],[91,93,7],[94,96,6],[96,95,5],[99,97,7],[100,98,5],[69,49,2]];

const panels = [
    { title: "Connecticut", red: ctRed, redCore: [], blue: ctBlue, blueCore: ctBlueCore, green: ctGreen, greenCore: ctGreenCore, heavy: ctHeavy, ox: 0, oy: 0 },
    { title: "Utah", red: utRed, redCore: [], blue: utBlue, blueCore: [], green: utGreen, greenCore: utGreenCore, heavy: utHeavy, ox: 359.7, oy: 0 },
    { title: "Kansas", red: ksRed, redCore: ksRedCore, blue: ksBlue, blueCore: [], green: ksGreen, greenCore: ksGreenCore, heavy: ksHeavy, ox: 0, oy: 404.2 },
    { title: "Mississippi", red: msRed, redCore: msRedCore, blue: msBlue, blueCore: msBlueCore, green: msGreen, greenCore: msGreenCore, heavy: msHeavy, ox: 359.7, oy: 404.2 }
];

const colRed = "#90353b", colBlue = "#1a476f", colGreen = "#55752f", colLine = "#c10534";

const svg = d3.select("#chart");
const r = d3.scaleSqrt().domain([0, 1]).range([0, 4.9]);

// [[x, [y, y...]], ...] -> [x, y, 1] rows
const unroll = cols => cols.flatMap(([x, ys]) => ys.map(y => [x, y, 1]));

function drawPanel(p) {
    const g = svg.append("g").attr("transform", `translate(${p.ox},${p.oy})`);
    const x = d3.scaleLinear().domain([0, 100]).range([88.3, 356.7]);
    const y = d3.scaleLinear().domain([0, 100]).range([310.7, 39.3]);
    const left = 79.3, right = 366.7, top = 30, bottom = 320;

    g.append("rect").attr("x", left).attr("y", top)
        .attr("width", right - left).attr("height", bottom - top).attr("fill", "#fff");

    // gridlines
    g.selectAll(".grid").data(tickValues).join("line")
        .attr("x1", left).attr("x2", right)
        .attr("y1", d => y(d)).attr("y2", d => y(d))
        .attr("stroke", "#eaf2f3").attr("stroke-width", 1);

    // cutoffs
    g.append("line").attr("x1", left).attr("x2", right)
        .attr("y1", y(cutoff)).attr("y2", y(cutoff))
        .attr("stroke", colLine).attr("stroke-width", 1.2);
    g.append("line").attr("x1", x(cutoff)).attr("x2", x(cutoff))
        .attr("y1", top).attr("y2", bottom)
        .attr("stroke", colLine).attr("stroke-width", 1.2);

    // the core rows sit inside the solid clumps, a heavier ring closes the gaps there
    const layers = [
        [unroll(p.red), colRed, 1.35],
        [unroll(p.redCore), colRed, 2.6],
        [unroll(p.blue), colBlue, 1.35],
        [unroll(p.blueCore), colBlue, 2.6],
        [unroll(p.green), colGreen, 1.35],
        [unroll(p.greenCore), colGreen, 2.6],
        [p.heavy, colGreen, 1.35]
    ];
    layers.forEach(([rows, col, sw]) => {
        g.append("g").selectAll("circle").data(rows).join("circle")
            .attr("cx", d => x(d[0]))
            .attr("cy", d => y(d[1]))
            .attr("r", d => r(d[2]))
            .attr("fill", "none")
            .attr("stroke", col)
            .attr("stroke-width", sw);
    });

    const xAxis = g.append("g").attr("transform", `translate(0,${bottom})`)
        .call(d3.axisBottom(x).tickValues(tickValues).tickSize(5).tickPadding(5));
    xAxis.select(".domain").attr("d", `M${left},0H${right}`);
    const yAxis = g.append("g").attr("transform", `translate(${left},0)`)
        .call(d3.axisLeft(y).tickValues(tickValues).tickSize(5).tickPadding(3));
    yAxis.select(".domain").attr("d", `M0,${top}V${bottom}`);
    g.selectAll(".domain, .tick line").attr("stroke", "#333").attr("stroke-width", 0.9);

    xAxis.selectAll("text").attr("class", "ticklab").attr("font-family", null).attr("font-size", null);
    yAxis.selectAll("text").attr("class", "ticklab")
        .attr("transform", "rotate(-90)")
        .attr("x", 0).attr("y", -14)
        .attr("text-anchor", "middle").attr("dy", "0");

    g.append("text").attr("class", "axtitle").attr("x", 223).attr("y", 354)
        .attr("text-anchor", "middle").text("Standardized ADI");
    g.append("text").attr("class", "axtitle").attr("transform", "translate(50,175) rotate(-90)")
        .attr("text-anchor", "middle").text("Neighborhood Atlas ADI");
    g.append("text").attr("class", "ptitle").attr("x", 223).attr("y", 24)
        .attr("text-anchor", "middle").text(p.title);
}

panels.forEach(drawPanel);
</script>
</body>
</html>
